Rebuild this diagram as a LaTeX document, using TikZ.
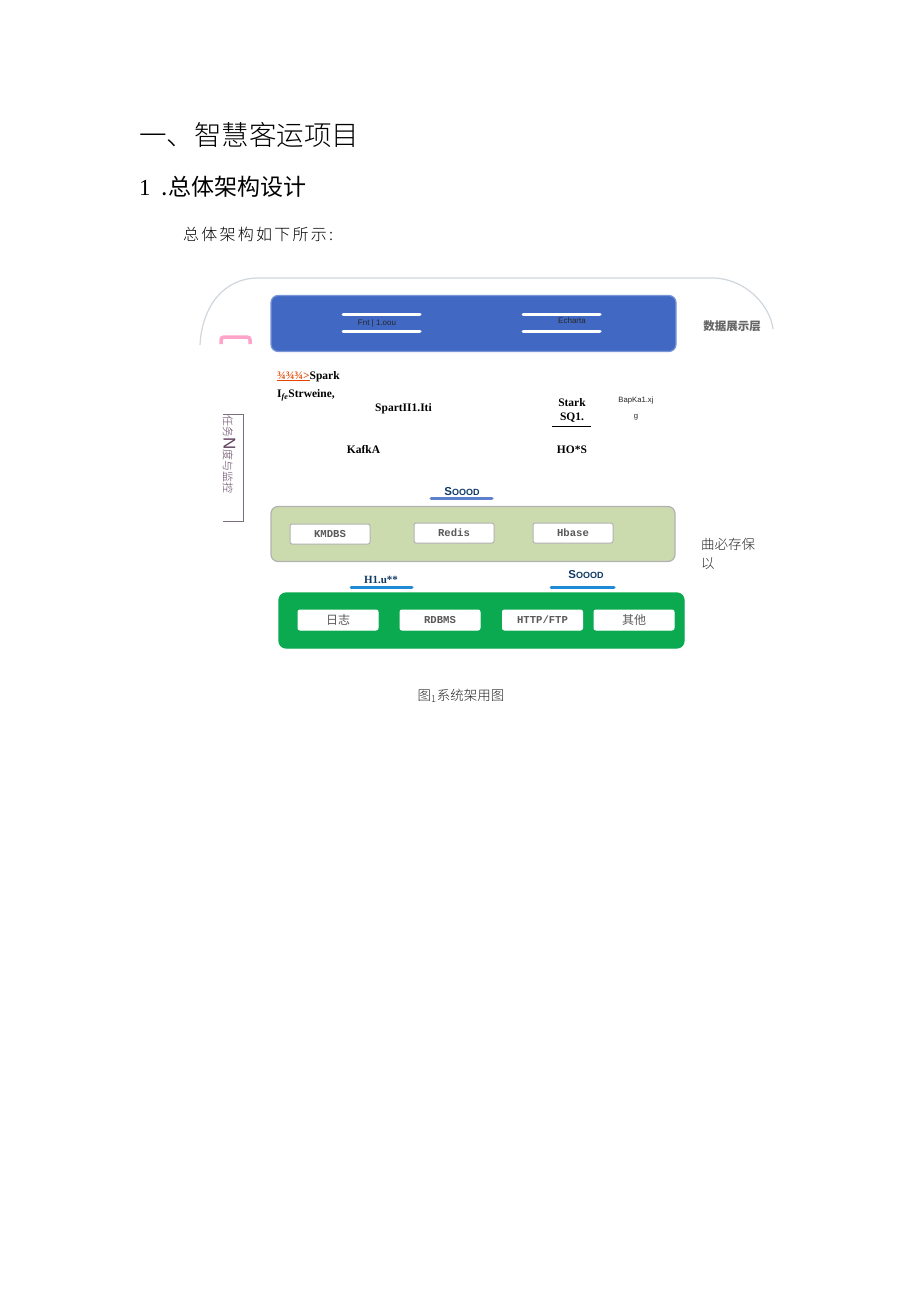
\documentclass[tikz,border=0pt]{standalone}
\usepackage{fontspec}
\setmainfont{Liberation Serif}
\setsansfont{Liberation Sans}
\setmonofont{Liberation Mono}
\newfontfamily\cjk{Noto Sans CJK SC}
\newfontfamily\cjklight{Noto Sans CJK SC Light}
\newfontfamily\cjkwide[LetterSpace=14]{Noto Sans CJK SC Light}
\definecolor{bluebar}{HTML}{4169C4}
\definecolor{sagebar}{HTML}{CCDBAE}
\definecolor{greenbar}{HTML}{0BAA50}
\definecolor{navytext}{HTML}{103A66}
\definecolor{arcgrey}{HTML}{CFD6DC}
\definecolor{capblue}{HTML}{1F8AD6}
\definecolor{bracketgrey}{HTML}{7A6F7E}
\tikzset{
 x=1pt,y=-1pt,
 panel/.style={rounded corners=7pt,line width=1.2pt},
 chip/.style={draw=#1,fill=white,rounded corners=2pt,line width=1pt,minimum width=80pt,minimum height=20pt,inner sep=0pt,font=\ttfamily\bfseries\fontsize{10.6}{11}\selectfont,text=black!65},
 chip/.default=black!30,
 cjkchip/.style={font=\cjk\fontsize{12}{12}\selectfont},
 bold/.style={font=\bfseries\fontsize{11.5}{12}\selectfont,text=black,inner sep=0pt},
 heading/.style={anchor=west,inner sep=0pt,text=black},
 smallsans/.style={font=\sffamily\fontsize{8}{9}\selectfont,inner sep=0pt},
 capbar/.style={line width=3pt,line cap=round},
 whitebar/.style={draw=white,line width=3pt,line cap=round},
 tag/.style={font=\sffamily\bfseries\fontsize{11.5}{12}\selectfont,text=navytext,inner sep=0pt}
}
\begin{document}
\begin{tikzpicture}
\useasboundingbox (0,0) rectangle (920,1301);
\fill[white] (0,0) rectangle (920,1301);
% headings
\node[heading,font=\cjklight\fontsize{27.5}{28}\selectfont] (h1) at (139,135) {一、智慧客运项目};
\node[heading,font=\cjk\fontsize{23}{24}\selectfont] (h2) at (139,187) {{\rmfamily 1}\hspace{11pt}.总体架构设计};
\node[heading,font=\cjkwide\fontsize{16}{16}\selectfont] (h3) at (183,234) {总体架构如下所示:};
% outer arc
\draw[arcgrey,line width=1.2pt] (200,345) .. controls (202,305) and (225,278) .. (258,278) -- (712,278) .. controls (745,278) and (770,305) .. (773,329);
% pink mark
\draw[draw=pink!85!magenta,line width=3.5pt,rounded corners=3pt] (221,344) -- (221,337) -- (250,337) -- (250,344);
% blue panel
\node[panel,draw=bluebar!70!white,fill=bluebar,minimum width=405pt,minimum height=56pt,inner sep=0pt] (blue) at (473.5,323.5) {};
\draw[whitebar] (343,314) -- (420,314);
\draw[whitebar] (343,331) -- (420,331);
\draw[whitebar] (523,314) -- (600,314);
\draw[whitebar] (523,331) -- (600,331);
\node[smallsans,text=black!85] (fnt) at (377,323) {Fnt | 1.oou};
\node[smallsans,text=black!85] (ech) at (572,321) {Echarta};
\node[font=\cjk\bfseries\fontsize{11.5}{12}\selectfont,text=black!60,inner sep=0pt] (show) at (732,326) {数据展示层};
% middle texts
\node[bold,anchor=west] (spark) at (277,376.5) {\textcolor{orange!60!red!90!black}{\underline{\smash{¾¾¾>}}}Spark};
\node[bold,anchor=west] (strw) at (277,395) {I\textsubscript{\textit{fe}}Strweine,};
\node[bold] (sph) at (403.5,409) {SpartII1.Iti};
\node[bold] (kafka) at (363.5,450) {KafkA};
\node[bold] (stark) at (572,403) {Stark};
\node[bold] (sql) at (572,418) {SQ1.};
\draw[black,line width=.8pt] (552,426) -- (591,426);
\node[bold] (hos) at (572,450) {HO*S};
\node[font=\sffamily\fontsize{7.7}{8}\selectfont,inner sep=0pt,text=black!85] (bap) at (636,401) {BapKa1.xj};
\node[font=\sffamily\fontsize{7.7}{8}\selectfont,inner sep=0pt,text=black!85] (g) at (636,417) {g};
% left bracket
\draw[bracketgrey,line width=1pt] (223,414) -- (243,414) -- (243,521) -- (223,521);
\node[rotate=-90,font=\cjklight\fontsize{11}{11}\selectfont,text=violet!30!black!75,inner sep=0pt] (task) at (229,454.5) {任务{\sffamily\fontsize{17}{17}\selectfont N}度与监控};
% sage panel
\draw[capbar,draw=bluebar!85!white] (431,498.5) -- (492,498.5);
\node[tag] (s1) at (462,492) {S\fontsize{9}{10}\selectfont OOOD};
\node[panel,draw=black!30,fill=sagebar,minimum width=404pt,minimum height=55pt,inner sep=0pt] (sage) at (473,534) {};
\node[chip] (c1) at (330,534) {KMDBS};
\node[chip] (c2) at (454,533) {Redis};
\node[chip] (c3) at (573,533) {Hbase};
\node[font=\cjklight\fontsize{13.5}{19}\selectfont,anchor=north west,align=left,inner sep=0pt,text=black!85] (store) at (701,538) {曲必存保\\以};
% green panel
\draw[capbar,draw=capblue] (351,587.5) -- (412,587.5);
\node[font=\bfseries\fontsize{11}{11}\selectfont,text=navytext,inner sep=0pt] (hlu) at (381,580) {H1.u**};
\draw[capbar,draw=capblue] (551,587.5) -- (614,587.5);
\node[tag] (s2) at (586,575) {S\fontsize{9}{10}\selectfont OOOD};
\node[panel,draw=greenbar,fill=greenbar,minimum width=405pt,minimum height=55pt,inner sep=0pt] (green) at (481.5,620.5) {};
\node[chip=white,cjkchip] (d1) at (338,620) {日志};
\node[chip=white] (d2) at (440,620) {RDBMS};
\node[chip=white] (d3) at (542.5,620) {HTTP/FTP};
\node[chip=white,cjkchip] (d4) at (634,620) {其他};
% caption
\node[font=\cjklight\fontsize{13.5}{14}\selectfont,inner sep=0pt,text=black!85] (cap) at (461,696) {图\textsubscript{1}系统架用图};
\end{tikzpicture}
\end{document}
